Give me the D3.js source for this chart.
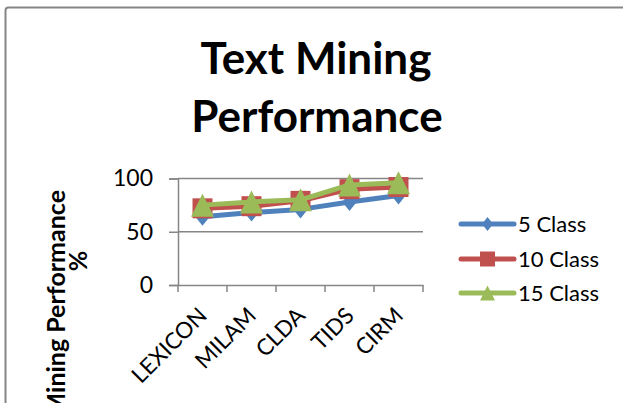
<!DOCTYPE html>
<html>
<head>
<meta charset="utf-8">
<script src="https://cdn.jsdelivr.net/npm/d3@7/dist/d3.min.js"></script>
<style>
  html, body { margin: 0; padding: 0; background: #fff; }
  svg { display: block; }
  text { font-family: Lato, "Open Sans", sans-serif; fill: #000; }
</style>
</head>
<body>
<svg id="chart" width="623" height="403"></svg>
<script>
const categories = ["LEXICON", "MILAM", "CLDA", "TIDS", "CIRM"];
const seriesNames = ["5 Class", "10 Class", "15 Class"];
const class5 = [64, 68, 71, 78, 84];
const class10 = [72, 74, 79, 90, 92];
const class15 = [75, 78, 80, 94, 96];
const yTicks = [0, 50, 100];
const titleLines = ["Text Mining", "Performance"];
const yTitleLines = ["Mining Performance", "%"];

const colors = ["#4F81BD", "#C0504D", "#9BBB59"];
const shapes = ["diamond", "square", "triangle"];
const seriesValues = [class5, class10, class15];

const svg = d3.select("#chart");

// chart border
svg.append("rect")
  .attr("x", 5.5).attr("y", 7.5).attr("width", 700).attr("height", 500)
  .attr("rx", 3)
  .attr("fill", "none").attr("stroke", "#868686").attr("stroke-width", 2);

// title
svg.append("text").attr("x", 316).attr("y", 74)
  .attr("text-anchor", "middle").attr("font-size", 44).attr("font-weight", 700)
  .text(titleLines[0]);
svg.append("text").attr("x", 317).attr("y", 132)
  .attr("text-anchor", "middle").attr("font-size", 44).attr("font-weight", 700)
  .text(titleLines[1]);

const x = d3.scaleBand().domain(categories).range([178, 423]);
const y = d3.scaleLinear().domain([0, 100]).range([285, 178.5]);

const grid = svg.append("g");
grid.selectAll("line").data(yTicks.filter(t => t > 0)).join("line")
  .attr("x1", 178).attr("x2", 423)
  .attr("y1", d => y(d)).attr("y2", d => y(d))
  .attr("stroke", "#868686").attr("stroke-width", 1.5);

// y axis
const yAxis = svg.append("g").attr("transform", "translate(178,0)")
  .call(d3.axisLeft(y).tickValues(yTicks).tickSize(9).tickPadding(16));
yAxis.select(".domain").attr("stroke", "#868686").attr("stroke-width", 1.5);
yAxis.selectAll(".tick line").attr("stroke", "#868686").attr("stroke-width", 1.5);
yAxis.selectAll(".tick text").attr("font-size", 23).attr("font-family", "Lato").attr("fill", "#000");

// x axis
const xAxis = svg.append("g").attr("transform", "translate(0,285)")
  .call(d3.axisBottom(x).tickSize(0).tickFormat(""));
xAxis.select(".domain").attr("stroke", "#868686").attr("stroke-width", 1.5);
const edges = categories.map(c => x(c)).concat([x(categories[categories.length - 1]) + x.bandwidth()]);
xAxis.selectAll(".edge").data(edges).join("line").attr("class", "edge")
  .attr("x1", d => d).attr("x2", d => d).attr("y1", 0).attr("y2", 7)
  .attr("stroke", "#868686").attr("stroke-width", 1.5);

// x labels rotated
svg.append("g").selectAll("text").data(categories).join("text")
  .attr("transform", d => `translate(${x(d) + x.bandwidth() / 2 + 6},317) rotate(-45)`)
  .attr("text-anchor", "end").attr("font-size", 22.5)
  .text(d => d);

// y axis title
svg.append("text")
  .attr("transform", "translate(65,190) rotate(-90)")
  .attr("text-anchor", "end").attr("font-size", 25).attr("font-weight", 700)
  .text(yTitleLines[0]);
svg.append("text")
  .attr("transform", "translate(87,261) rotate(-90)")
  .attr("text-anchor", "middle").attr("font-size", 25).attr("font-weight", 700)
  .text(yTitleLines[1]);

function markerPath(shape, s) {
  if (shape === "diamond") {
    const h = s * 0.5, w = s * 0.4;
    return `M0,${-h}L${w},0L0,${h}L${-w},0Z`;
  }
  if (shape === "square") {
    const h = s * 0.5;
    return `M${-h},${-h}H${h}V${h}H${-h}Z`;
  }
  const h = s * 0.5;
  return `M0,${-h}L${h},${h}L${-h},${h}Z`;
}

const line = d3.line().x((d, i) => x(categories[i]) + x.bandwidth() / 2).y(d => y(d));
const plotSizes = [18, 20, 23];

seriesValues.forEach((vals, si) => {
  const g = svg.append("g");
  g.append("path").datum(vals).attr("d", line)
    .attr("fill", "none").attr("stroke", colors[si]).attr("stroke-width", 5)
    .attr("stroke-linejoin", "round").attr("stroke-linecap", "round");
  g.selectAll("path.m").data(vals).join("path").attr("class", "m")
    .attr("transform", (d, i) => `translate(${x(categories[i]) + x.bandwidth() / 2},${y(d)})`)
    .attr("d", markerPath(shapes[si], plotSizes[si]))
    .attr("fill", colors[si]);
});

// legend
const legendRows = [224, 259, 293];
const legendSizes = [14, 15, 15];
const lg = svg.append("g");
seriesNames.forEach((name, i) => {
  const row = lg.append("g").attr("transform", `translate(0,${legendRows[i]})`);
  row.append("line").attr("x1", 461).attr("x2", 514).attr("y1", 0).attr("y2", 0)
    .attr("stroke", colors[i]).attr("stroke-width", 5).attr("stroke-linecap", "round");
  row.append("path").attr("transform", "translate(487.5,0)")
    .attr("d", markerPath(shapes[i], legendSizes[i])).attr("fill", colors[i]);
  row.append("text").attr("x", 518).attr("y", 0).attr("dy", "0.35em")
    .attr("font-size", 22).text(name);
});
</script>
</body>
</html>
